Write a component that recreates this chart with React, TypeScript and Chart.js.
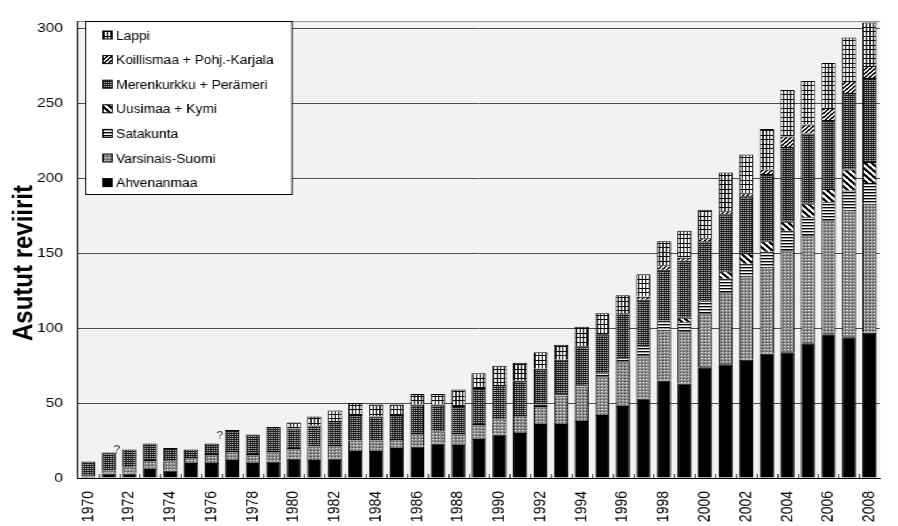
import React, { useEffect, useRef } from 'react';
import { Chart, registerables } from 'chart.js';

Chart.register(...registerables);

// Occupied territories per region, 1970–2008 (stacked from bottom to top)
const years = [
  '1970', '1971', '1972', '1973', '1974', '1975', '1976', '1977', '1978', '1979',
  '1980', '1981', '1982', '1983', '1984', '1985', '1986', '1987', '1988', '1989',
  '1990', '1991', '1992', '1993', '1994', '1995', '1996', '1997', '1998', '1999',
  '2000', '2001', '2002', '2003', '2004', '2005', '2006', '2007', '2008',
];

const ahvenanmaa = [
  1, 3, 3, 6, 5, 10, 10, 12, 10, 11,
  13, 12, 13, 18, 18, 20, 21, 23, 22, 26,
  29, 30, 36, 36, 38, 42, 48, 53, 65, 63,
  74, 76, 79, 83, 84, 90, 96, 94, 97,
];
const varsinaisSuomi = [
  1, 2, 4, 6, 6, 4, 6, 6, 6, 7,
  7, 9, 9, 7, 7, 6, 9, 8, 8, 10,
  10, 12, 12, 19, 23, 26, 30, 29, 34, 35,
  36, 48, 56, 58, 68, 72, 76, 85, 86,
];
const satakunta = [
  0, 0, 0, 0, 0, 0, 0, 0, 0, 0,
  0, 0, 0, 0, 0, 0, 0, 0, 0, 0,
  0, 0, 1, 1, 1, 2, 2, 6, 6, 6,
  8, 9, 8, 10, 13, 12, 12, 13, 14,
];
const uusimaaKymi = [
  0, 0, 0, 0, 0, 0, 0, 0, 0, 0,
  0, 0, 0, 0, 0, 0, 0, 0, 0, 0,
  0, 0, 0, 0, 0, 0, 0, 0, 0, 3,
  0, 5, 7, 7, 6, 9, 9, 14, 14,
];
const merenkurkkuPerameri = [
  9, 12, 12, 11, 9, 5, 7, 14, 13, 16,
  13, 14, 16, 17, 16, 16, 19, 18, 18, 24,
  23, 23, 24, 23, 26, 26, 30, 31, 34, 38,
  40, 38, 38, 45, 50, 47, 46, 51, 56,
];
const koillismaaPohjKarjala = [
  0, 0, 0, 0, 0, 0, 0, 0, 0, 0,
  0, 0, 0, 0, 0, 0, 0, 0, 0, 0,
  0, 0, 0, 0, 0, 0, 0, 2, 3, 2,
  2, 2, 2, 3, 7, 6, 8, 8, 8,
];
const lappi = [
  0, 0, 0, 0, 0, 0, 0, 0, 0, 0,
  4, 6, 7, 8, 8, 7, 7, 7, 11, 10,
  13, 12, 11, 10, 13, 14, 12, 15, 16, 18,
  19, 26, 26, 27, 31, 29, 30, 29, 29,
];

// Years whose count is marked as uncertain
const uncertainYears = ['1972', '1977'];

const yTickValues = [0, 50, 100, 150, 200, 250, 300];
const yMax = 305;
const yTitle = 'Asutut reviirit';

const FONT = '"Liberation Sans", Arial, Helvetica, sans-serif';
// the whole drawing is widened horizontally by this factor
const STRETCH_X = 1.15;
const CANVAS_W = 786;
const CANVAS_H = 526;
const PLOT_LEFT = 67.8;

function tile(
  w: number,
  h: number,
  paint: (g: CanvasRenderingContext2D) => void,
): CanvasPattern | string {
  const c = document.createElement('canvas');
  c.width = w;
  c.height = h;
  const g = c.getContext('2d');
  if (!g) return '#888888';
  paint(g);
  return g.createPattern(c, 'repeat') || '#888888';
}

function dot(g: CanvasRenderingContext2D, x: number, y: number, color: string) {
  g.fillStyle = color;
  g.fillRect(x, y, 1, 1);
}

function buildFills() {
  return {
    solid: '#000000',
    dottedGray: tile(3, 3, (g) => {
      g.fillStyle = '#8c8c8c';
      g.fillRect(0, 0, 3, 3);
      dot(g, 1, 1, '#f4f4f4');
      dot(g, 0, 0, '#3a3a3a');
    }),
    hLines: tile(1, 3, (g) => {
      dot(g, 0, 0, '#000000');
      dot(g, 0, 1, '#a0a0a0');
      dot(g, 0, 2, '#ffffff');
    }),
    backDiag: tile(6, 6, (g) => {
      g.fillStyle = '#ffffff';
      g.fillRect(0, 0, 6, 6);
      for (let y = 0; y < 6; y++)
        for (let x = 0; x < 6; x++)
          if ((((x - y) % 6) + 6) % 6 < 3) dot(g, x, y, '#000000');
    }),
    darkDots: tile(2, 2, (g) => {
      g.fillStyle = '#1c1c1c';
      g.fillRect(0, 0, 2, 2);
      dot(g, 0, 0, '#cfcfcf');
    }),
    fwdDiag: tile(4, 4, (g) => {
      g.fillStyle = '#ffffff';
      g.fillRect(0, 0, 4, 4);
      for (let y = 0; y < 4; y++)
        for (let x = 0; x < 4; x++) if ((x + y) % 4 < 2) dot(g, x, y, '#000000');
    }),
    grid: tile(6, 9, (g) => {
      g.fillStyle = '#ffffff';
      g.fillRect(0, 0, 6, 9);
      g.fillStyle = '#000000';
      g.fillRect(0, 0, 6, 1);
      g.fillRect(0, 4, 6, 1);
      g.fillRect(0, 0, 1, 9);
      g.fillRect(3, 0, 1, 9);
    }),
  };
}

export default function App() {
  const canvasRef = useRef<HTMLCanvasElement | null>(null);

  useEffect(() => {
    document.documentElement.style.overflow = 'hidden';
    document.body.style.overflow = 'hidden';
    const canvas = canvasRef.current;
    if (!canvas) return;

    const fills = buildFills();
    const series = [
      { label: 'Ahvenanmaa', data: ahvenanmaa, fill: fills.solid },
      { label: 'Varsinais-Suomi', data: varsinaisSuomi, fill: fills.dottedGray },
      { label: 'Satakunta', data: satakunta, fill: fills.hLines },
      { label: 'Uusimaa + Kymi', data: uusimaaKymi, fill: fills.backDiag },
      { label: 'Merenkurkku + Perämeri', data: merenkurkkuPerameri, fill: fills.darkDots },
      { label: 'Koillismaa + Pohj.-Karjala', data: koillismaaPohjKarjala, fill: fills.fwdDiag },
      { label: 'Lappi', data: lappi, fill: fills.grid },
    ];
    const totals = years.map((_, i) => series.reduce((s, d) => s + d.data[i], 0));

    const decorations = {
      id: 'decorations',
      beforeDraw(chart: any) {
        const { ctx, chartArea: a } = chart;
        ctx.save();
        ctx.fillStyle = '#f2f2f2';
        ctx.fillRect(a.left, a.top, a.right - a.left, a.bottom - a.top);
        ctx.strokeStyle = '#8c8c8c';
        ctx.lineWidth = 1;
        ctx.beginPath();
        ctx.moveTo(a.left, a.top + 0.5);
        ctx.lineTo(a.right, a.top + 0.5);
        ctx.stroke();
        ctx.restore();
      },
      afterDraw(chart: any) {
        const { ctx, chartArea: a } = chart;
        const xs = chart.scales.x;
        const ys = chart.scales.y;
        ctx.save();

        // short marks between categories on the category axis
        ctx.strokeStyle = '#404040';
        ctx.lineWidth = 1;
        ctx.beginPath();
        for (let i = 1; i < years.length; i++) {
          const xb = Math.round((xs.getPixelForValue(i - 1) + xs.getPixelForValue(i)) / 2) + 0.5;
          ctx.moveTo(xb, a.bottom);
          ctx.lineTo(xb, a.bottom - 4);
        }
        ctx.stroke();

        // question marks for uncertain counts
        ctx.fillStyle = '#333333';
        ctx.font = `10px ${FONT}`;
        ctx.textAlign = 'center';
        ctx.textBaseline = 'middle';
        uncertainYears.forEach((yr) => {
          const i = years.indexOf(yr);
          if (i < 1) return;
          const xb = (xs.getPixelForValue(i - 1) + xs.getPixelForValue(i)) / 2 - 2;
          const yb = (ys.getPixelForValue(totals[i - 1]) + ys.getPixelForValue(totals[i])) / 2 - 1;
          ctx.fillText('?', xb, yb);
        });

        // legend box inside the plot area
        const boxX = 74.5;
        const boxY = 21.5;
        const boxW = 179.5;
        const boxH = 173;
        ctx.fillStyle = '#ffffff';
        ctx.fillRect(boxX, boxY, boxW, boxH);
        ctx.strokeStyle = '#000000';
        ctx.lineWidth = 1;
        ctx.strokeRect(boxX, boxY, boxW, boxH);
        ctx.font = `12px ${FONT}`;
        ctx.textAlign = 'left';
        ctx.textBaseline = 'alphabetic';
        const ordered = series.slice().reverse();
        ordered.forEach((s, k) => {
          const base = 39.5 + k * 24.6;
          ctx.fillStyle = s.fill;
          ctx.fillRect(89.5, base - 8.5, 8, 8);
          ctx.strokeStyle = '#000000';
          ctx.strokeRect(89.5, base - 8.5, 8, 8);
          ctx.fillStyle = '#000000';
          ctx.fillText(s.label, 100.9, base);
        });

        // value axis title
        ctx.save();
        ctx.translate(28.2, 263);
        ctx.rotate(-Math.PI / 2);
        ctx.font = `bold 24px ${FONT}`;
        ctx.textAlign = 'center';
        ctx.textBaseline = 'alphabetic';
        ctx.fillStyle = '#000000';
        ctx.fillText(yTitle, 0, 0);
        ctx.restore();

        ctx.restore();
      },
    };

    const chart = new Chart(canvas, {
      type: 'bar',
      data: {
        labels: years,
        datasets: series.map((s) => ({
          label: s.label,
          data: s.data,
          backgroundColor: s.fill as any,
          borderColor: '#000000',
          borderWidth: 1,
          barPercentage: 0.69,
          categoryPercentage: 1,
        })),
      },
      options: {
        animation: false,
        responsive: false,
        devicePixelRatio: 1,
        layout: { padding: { top: 8, left: 0, right: 0, bottom: 0 } },
        plugins: {
          legend: { display: false },
          tooltip: { enabled: false },
          title: { display: false },
        },
        scales: {
          x: {
            stacked: true,
            offset: true,
            grid: { display: false, drawTicks: false },
            border: { display: true, color: '#000000', width: 1 },
            ticks: {
              autoSkip: false,
              minRotation: 90,
              maxRotation: 90,
              padding: 13,
              color: '#000000',
              font: { family: FONT, size: 14 },
              callback: (_v: any, i: number) => (i % 2 === 0 ? years[i] : ''),
            },
            afterFit: (s: any) => {
              s.height = 48;
            },
          },
          y: {
            stacked: true,
            min: 0,
            max: yMax,
            grid: { color: '#4d4d4d', drawTicks: false },
            border: { display: true, color: '#000000', width: 1 },
            ticks: {
              padding: 13,
              color: '#000000',
              font: { family: FONT, size: 13.5 },
            },
            afterBuildTicks: (s: any) => {
              s.ticks = yTickValues.map((v) => ({ value: v }));
            },
            afterFit: (s: any) => {
              s.width = PLOT_LEFT;
            },
          },
        },
      },
      plugins: [decorations],
    });

    return () => {
      chart.destroy();
    };
  }, []);

  return (
    <div
      style={{
        position: 'fixed',
        left: 0,
        top: 0,
        width: CANVAS_W,
        height: CANVAS_H,
        transform: `scaleX(${STRETCH_X})`,
        transformOrigin: '0 0',
        background: '#ffffff',
      }}
    >
      <canvas
        ref={canvasRef}
        width={CANVAS_W}
        height={CANVAS_H}
        style={{ display: 'block', width: `${CANVAS_W}px`, height: `${CANVAS_H}px` }}
      />
    </div>
  );
}
